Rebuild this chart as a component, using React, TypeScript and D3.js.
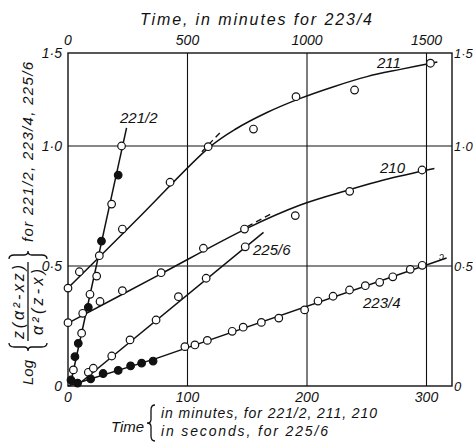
import React from 'react';
import * as d3 from 'd3';

const W = 473;
const H = 442;

// axis ticks
const bottomTicks = [0, 100, 200, 300];
const topTicks = [0, 500, 1000, 1500];
const yTicks = [0, 0.5, 1.0, 1.5];
const yTickLabels = ['0', '0·5', '1·0', '1·5'];
const yGrid = [0.5, 1.0];
const xGrid = [100, 200, 300];

// 211 (minutes, bottom axis)
const obs211 = [[0, 0.408], [9.5, 0.476], [26.2, 0.543], [45.5, 0.654], [85.4, 0.849], [117.3, 0.997], [155.2, 1.091], [190.8, 1.265], [239.8, 1.301], [303.3, 1.445]];
const fit211 = [[0, 0.408], [60, 0.705], [118.4, 0.995], [140, 1.09], [166.5, 1.18], [194.4, 1.256], [222.3, 1.319], [250.2, 1.373], [278.1, 1.412], [309.1, 1.452]];
const dash211 = [[112, 0.976], [128, 1.077]];

// 210 (minutes, bottom axis)
const obs210 = [[0, 0.264], [12.3, 0.303], [26.8, 0.352], [45.5, 0.397], [77.9, 0.472], [113.3, 0.574], [147.7, 0.654], [190.2, 0.71], [235.7, 0.811], [296.3, 0.9]];
const fit210 = [[0, 0.262], [75, 0.46], [149.7, 0.657], [194.4, 0.754], [235.7, 0.818], [264.1, 0.858], [306.6, 0.906]];
const dash210 = [[150, 0.664], [171, 0.72]];

// 221/2 (minutes, bottom axis)
const open221 = [[4.5, 0.067], [11.4, 0.22], [18.4, 0.382], [24, 0.458], [36.5, 0.758], [44.8, 1.0]];
const filled221 = [[2.5, 0.025], [5.8, 0.122], [8.6, 0.178], [17, 0.328], [28, 0.604], [42, 0.879]];
const fit221 = [[1.7, 0], [49, 1.097]];

// 225/6 (seconds, bottom axis)
const open225 = [[17, 0.057], [21.2, 0.074], [36.6, 0.125], [51.9, 0.192], [73.7, 0.275], [92.4, 0.372], [115.6, 0.449], [148.3, 0.58]];
const fit225 = [[7, 0], [163.6, 0.64]];

// 223/4 (minutes, top axis)
const filled223 = [[40, 0.012], [95, 0.03], [147, 0.052], [210, 0.065], [262, 0.084], [308, 0.095], [356, 0.104]];
const open223 = [[489, 0.164], [531, 0.171], [583, 0.19], [687, 0.228], [733, 0.245], [809, 0.265], [882, 0.283], [990, 0.317], [1046, 0.354], [1109, 0.374], [1178, 0.4], [1244, 0.418], [1304, 0.432], [1359, 0.455], [1432, 0.486], [1482, 0.503]];
const fit223 = [[0, 0], [370, 0.115], [1584, 0.533]];

const FONT = '"Liberation Sans", Arial, sans-serif';
const INK = '#111';

// curly brace "{" drawn between y1 and y2 (mirror it for "}")
function brace(x: number, y1: number, y2: number, w: number) {
  const h = y2 - y1;
  const m = (y1 + y2) / 2;
  const c = x + w / 2;
  return `M ${x + w} ${y1} Q ${c} ${y1} ${c} ${y1 + h * 0.14} L ${c} ${m - h * 0.1} Q ${c} ${m} ${x} ${m}` +
    ` Q ${c} ${m} ${c} ${m + h * 0.1} L ${c} ${y2 - h * 0.14} Q ${c} ${y2} ${x + w} ${y2}`;
}

export default function App() {
  const left = 68;
  const right = 452;
  const xB = d3.scaleLinear().domain([0, 300]).range([left, 426.5]);
  const xT = d3.scaleLinear().domain([0, 1500]).range([left, 426.5]);
  // the printed ordinate is squeezed above 1.0
  const y = d3.scaleLinear().domain([0, 1.0, 1.5]).range([386, 146, 53]);
  const top = y(1.5);
  const bottom = y(0);

  const lineB = d3.line<number[]>().x((d) => xB(d[0])).y((d) => y(d[1]));
  const lineT = d3.line<number[]>().x((d) => xT(d[0])).y((d) => y(d[1]));
  const curveB = d3.line<number[]>().x((d) => xB(d[0])).y((d) => y(d[1])).curve(d3.curveCatmullRom.alpha(0.5));

  const dots = (pts: number[][], sx: d3.ScaleLinear<number, number>, filled: boolean, key: string) =>
    pts.map((d, i) => (
      <circle key={key + i} cx={sx(d[0])} cy={y(d[1])} r={3.8}
        fill={filled ? INK : '#fff'} stroke={INK} strokeWidth={1.2} />
    ));

  const txt = { fontFamily: FONT, fontStyle: 'italic', fill: INK } as const;

  return (
    <svg width={W} height={H} style={{ position: 'absolute', left: 0, top: 0, background: '#fff' }}>
      {/* grid */}
      {xGrid.map((v) => (
        <line key={'gx' + v} x1={xB(v)} x2={xB(v)} y1={top} y2={bottom} stroke={INK} strokeWidth={1.1} />
      ))}
      {yGrid.map((v) => (
        <line key={'gy' + v} x1={left} x2={right} y1={y(v)} y2={y(v)} stroke={INK} strokeWidth={1.1} />
      ))}
      <rect x={left} y={top} width={right - left} height={bottom - top} fill="none" stroke={INK} strokeWidth={1.4} />

      {/* fitted lines */}
      <path d={curveB(fit211) || ''} fill="none" stroke={INK} strokeWidth={1.5} />
      <path d={lineB(dash211) || ''} fill="none" stroke={INK} strokeWidth={1.3} strokeDasharray="6 4" />
      <path d={curveB(fit210) || ''} fill="none" stroke={INK} strokeWidth={1.5} />
      <path d={lineB(dash210) || ''} fill="none" stroke={INK} strokeWidth={1.3} strokeDasharray="6 4" />
      <path d={lineB(fit221) || ''} fill="none" stroke={INK} strokeWidth={1.5} />
      <path d={lineB(fit225) || ''} fill="none" stroke={INK} strokeWidth={1.5} />
      <path d={lineT(fit223) || ''} fill="none" stroke={INK} strokeWidth={1.5} />

      {/* observations */}
      {dots(obs211, xB, false, 'a')}
      {dots(obs210, xB, false, 'b')}
      {dots(open225, xB, false, 'c')}
      {dots(open223, xT, false, 'd')}
      {dots(filled223, xT, true, 'e')}
      {dots(open221, xB, false, 'f')}
      {dots(filled221, xB, true, 'g')}

      {/* curve labels */}
      <text x={120} y={123} fontSize={15} {...txt}>221/2</text>
      <text x={377} y={68} fontSize={15} {...txt}>211</text>
      <text x={380} y={173} fontSize={15} {...txt}>210</text>
      <text x={253} y={255} fontSize={15} {...txt}>225/6</text>
      <text x={363} y={308} fontSize={15} {...txt}>223/4</text>
      <text x={439} y={260} fontSize={10} {...txt}>ɔ</text>

      {/* bottom ticks */}
      {bottomTicks.map((v) => (
        <text key={'bt' + v} x={xB(v)} y={402} fontSize={14} textAnchor="middle" {...txt}>{v}</text>
      ))}
      {/* top ticks */}
      {topTicks.map((v) => (
        <text key={'tt' + v} x={xT(v)} y={45} fontSize={14} textAnchor="middle" {...txt}>{v}</text>
      ))}
      {/* left / right ticks */}
      {yTicks.map((v, i) => (
        <text key={'yl' + v} x={62} y={y(v) + 5} fontSize={14} textAnchor="end" {...txt}>{yTickLabels[i]}</text>
      ))}
      {yTicks.map((v, i) => (
        <text key={'yr' + v} x={454} y={y(v) + 5} fontSize={13} {...txt}>{yTickLabels[i]}</text>
      ))}

      {/* top title */}
      <text x={140} y={25} fontSize={16} textLength={232} {...txt}>Time, in minutes for 223/4</text>

      {/* bottom title */}
      <text x={111} y={432} fontSize={15} {...txt}>Time</text>
      <path d={brace(147, 405, 441, 8)} fill="none" stroke={INK} strokeWidth={1.3} />
      <text x={161} y={418} fontSize={14} textLength={216} {...txt}>in minutes, for 221/2, 211, 210</text>
      <text x={161} y={436} fontSize={14} textLength={167} {...txt}>in seconds, for 225/6</text>

      {/* left title, rotated */}
      <g transform="translate(28,385) rotate(-90)">
        <text x={0} y={5} fontSize={15} {...txt}>Log</text>
        <path d={brace(34, -19, 19, 8)} fill="none" stroke={INK} strokeWidth={1.3} />
        <text x={46} y={-4} fontSize={16} textLength={74} {...txt}>z(α²-xz)</text>
        <line x1={44} x2={123} y1={0} y2={0} stroke={INK} strokeWidth={1.3} />
        <text x={50} y={15} fontSize={16} textLength={66} {...txt}>α²(z-x)</text>
        <path d={brace(-134, -19, 19, 8)} fill="none" stroke={INK} strokeWidth={1.3} transform="scale(-1,1)" />
        <text x={143} y={5} fontSize={15} textLength={180} {...txt}>for 221/2, 223/4, 225/6</text>
      </g>
    </svg>
  );
}
